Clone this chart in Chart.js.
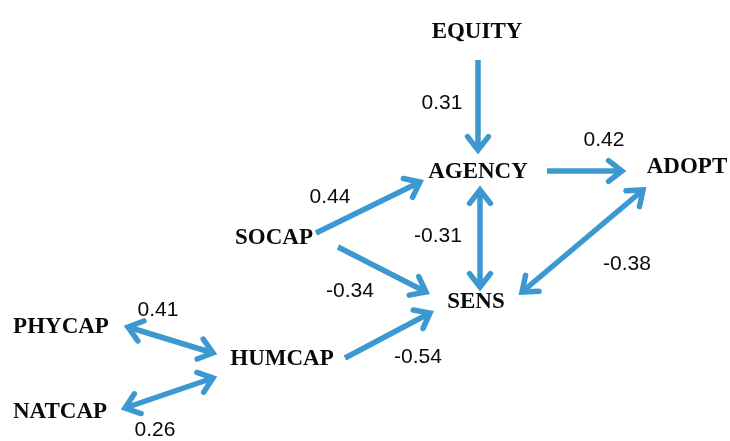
<!DOCTYPE html>
<html>
<head>
<meta charset="utf-8">
<script src="https://cdn.jsdelivr.net/npm/chart.js@4.4.1/dist/chart.umd.min.js"></script>
<style>
  body { margin: 0; background: #fff; }
  canvas { display: block; }
</style>
</head>
<body>
<canvas id="pathChart" width="730" height="441"></canvas>
<script>
// node names and where they sit (chart units = pixels of the diagram)
const nodes = ["EQUITY", "AGENCY", "ADOPT", "SOCAP", "SENS", "PHYCAP", "HUMCAP", "NATCAP"];
const nodeX = [477, 478, 687, 274, 476, 61, 282, 60];
const nodeY = [32, 172, 167, 238, 302, 327, 359, 412];

// path coefficients, one per arrow
const coefs = ["0.31", "0.42", "0.44", "-0.34", "-0.31", "-0.38", "0.41", "0.26", "-0.54"];
const coefX = [442, 604, 330, 350, 438, 627, 158, 155, 418];
const coefY = [103, 140, 197, 291, 236, 264, 310, 430, 357];

// arrows: start, end, and whether both ends have a head
const arrowX1 = [478, 547, 316, 338, 480, 643, 128, 213, 345];
const arrowY1 = [60, 171, 233, 247, 190, 190, 327, 378, 358];
const arrowX2 = [478, 622, 420, 426, 480, 522, 213, 125, 430];
const arrowY2 = [150, 171, 182, 292, 287, 292, 353, 408, 313];
const twoWay = [false, false, false, false, true, true, true, true, false];

const blue = "#3c98d0";

const datasets = arrowX1.map((x, i) => ({
  type: "line",
  data: [{ x: x, y: arrowY1[i] }, { x: arrowX2[i], y: arrowY2[i] }],
  borderColor: blue,
  borderWidth: 5.5,
  pointRadius: 0,
  fill: false,
  twoWay: twoWay[i],
}));

// draws the arrow heads, node names and coefficients
const diagramPlugin = {
  id: "diagram",
  afterDatasetsDraw(chart) {
    const ctx = chart.ctx;
    const xs = chart.scales.x;
    const ys = chart.scales.y;

    function head(tx, ty, fx, fy) {
      const a = Math.atan2(ty - fy, tx - fx);
      const len = 17;
      const spread = 0.66;
      ctx.beginPath();
      ctx.moveTo(tx - len * Math.cos(a - spread), ty - len * Math.sin(a - spread));
      ctx.lineTo(tx, ty);
      ctx.lineTo(tx - len * Math.cos(a + spread), ty - len * Math.sin(a + spread));
      ctx.stroke();
    }

    ctx.save();
    ctx.strokeStyle = blue;
    ctx.lineWidth = 5.5;
    ctx.lineCap = "round";
    ctx.lineJoin = "miter";
    chart.data.datasets.forEach((ds) => {
      const p1 = ds.data[0];
      const p2 = ds.data[1];
      const x1 = xs.getPixelForValue(p1.x), y1 = ys.getPixelForValue(p1.y);
      const x2 = xs.getPixelForValue(p2.x), y2 = ys.getPixelForValue(p2.y);
      head(x2, y2, x1, y1);
      if (ds.twoWay) head(x1, y1, x2, y2);
    });

    ctx.fillStyle = "#0a0a0a";
    ctx.textAlign = "center";
    ctx.textBaseline = "middle";
    ctx.font = "bold 23px 'Liberation Serif'";
    nodes.forEach((n, i) => {
      ctx.fillText(n, xs.getPixelForValue(nodeX[i]), ys.getPixelForValue(nodeY[i]));
    });

    ctx.font = "21px 'Liberation Sans'";
    coefs.forEach((c, i) => {
      ctx.fillText(c, xs.getPixelForValue(coefX[i]), ys.getPixelForValue(coefY[i]));
    });
    ctx.restore();
  },
};

new Chart(document.getElementById("pathChart"), {
  type: "scatter",
  data: { datasets: datasets },
  options: {
    responsive: false,
    animation: false,
    layout: { padding: 0 },
    plugins: { legend: { display: false }, tooltip: { enabled: false } },
    scales: {
      x: { type: "linear", min: 0, max: 730, display: false },
      y: { type: "linear", min: 0, max: 441, reverse: true, display: false },
    },
  },
  plugins: [diagramPlugin],
});
</script>
</body>
</html>
